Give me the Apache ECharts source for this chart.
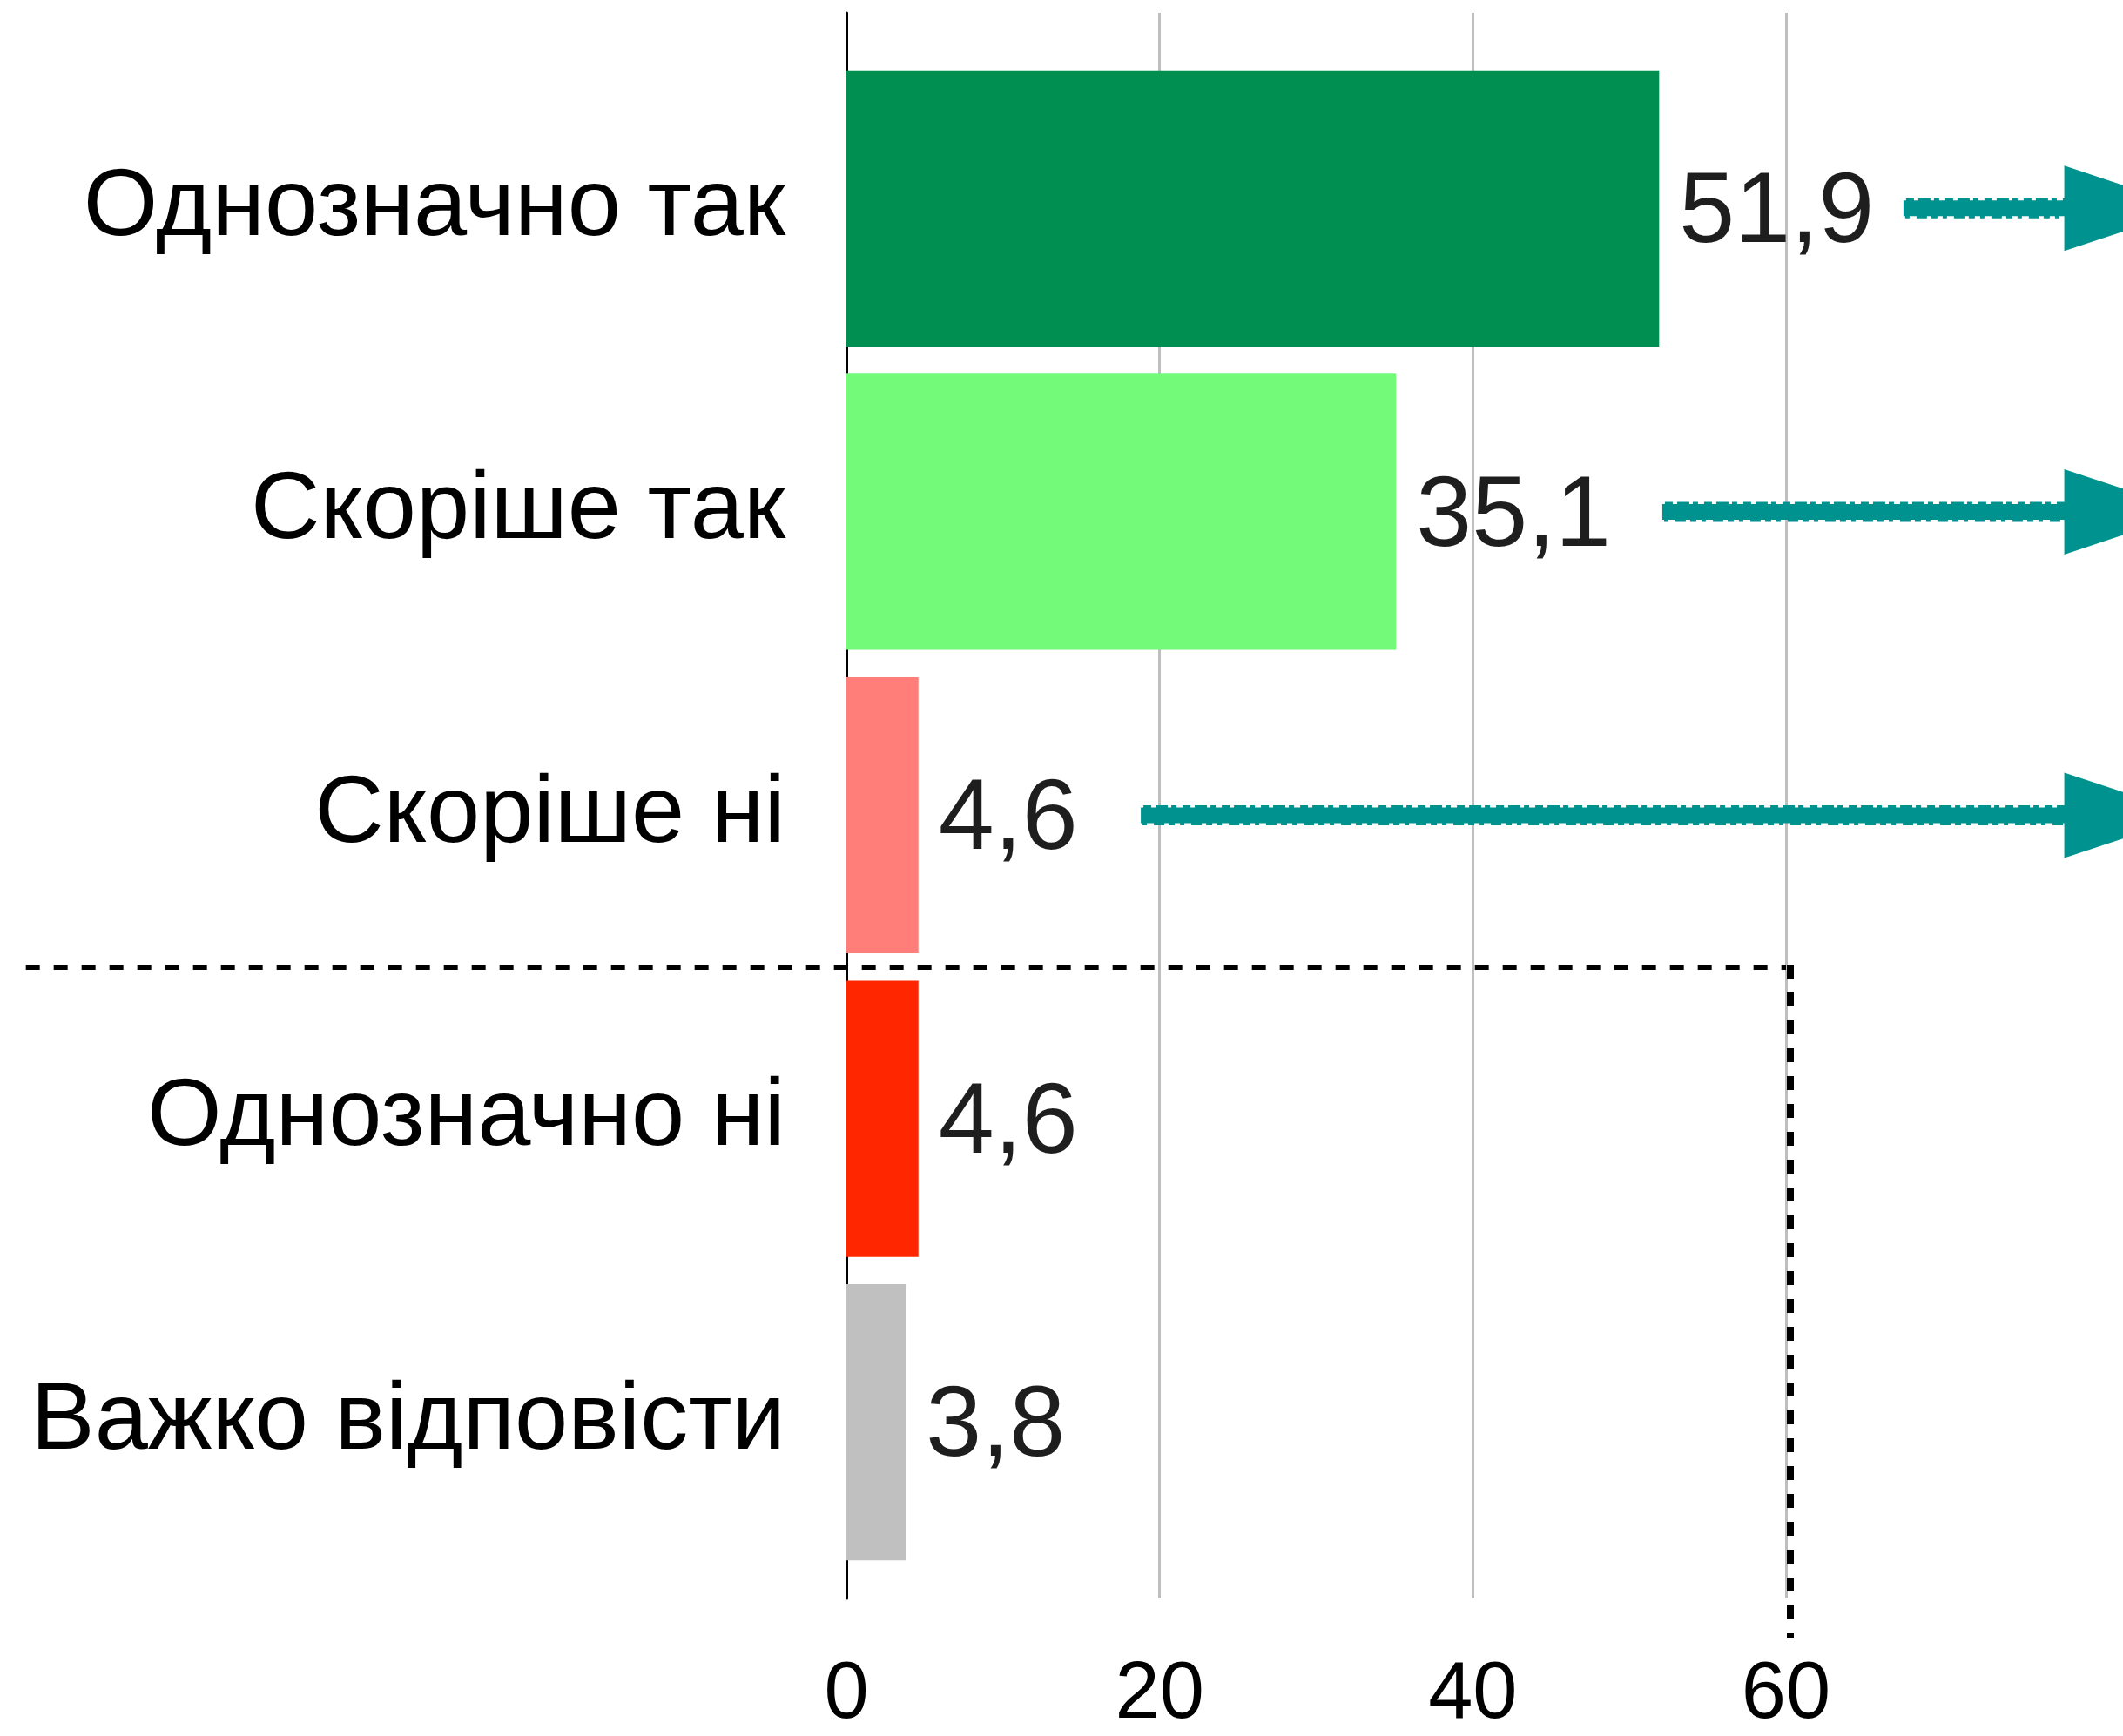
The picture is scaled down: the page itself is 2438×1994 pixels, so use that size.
<!DOCTYPE html>
<html>
<head>
<meta charset="utf-8">
<script src="https://cdn.jsdelivr.net/npm/echarts@6/dist/echarts.min.js"></script>
<style>
html, body { margin: 0; padding: 0; background: #ffffff; }
#chart { width: 2438px; height: 1994px; }
</style>
</head>
<body>
<div id="chart"></div>
<script>
// categories, top to bottom
var categories = ['Однозначно так', 'Скоріше так', 'Скоріше ні', 'Однозначно ні', 'Важко відповісти'];
var values = [51.9, 35.1, 4.6, 4.6, 3.8];
var barColors = ['#008F51', '#73FA79', '#FF7E79', '#FF2600', '#C0C0C0'];
var xTicks = [0, 20, 40, 60];

// teal arrows next to the first three bars (x in axis units)
var arrowRow = [0, 1, 2];
var arrowStart = [67.5, 52.1, 18.8];
var arrowEnd = [86, 86, 86];

// dashed separator: under row 2, from far left to x=60, then down past the last row
var sepX = [-52.4, 60];
var sepAfterRow = 2;
var sepDownToRow = 4;

var FONT = 'Liberation Sans';
var teal = '#00928E';

var chart = echarts.init(document.getElementById('chart'));

var barData = values.map(function (v, i) {
    return { value: v, itemStyle: { color: barColors[i] } };
});

var arrowData = arrowRow.map(function (r, i) {
    return [arrowStart[i], arrowEnd[i], r];
});

function renderArrow(params, api) {
    var p0 = api.coord([api.value(0), api.value(2)]);
    var p1 = api.coord([api.value(1), api.value(2)]);
    var head = 148, half = 49;
    var x2 = p1[0] - head + 6;
    var y = p0[1];
    return {
        type: 'group',
        children: [
            {
                type: 'line',
                shape: { x1: p0[0], y1: y, x2: x2, y2: y },
                style: { stroke: teal, lineWidth: 18 }
            },
            // rough edges, a bit like chalk
            {
                type: 'line',
                shape: { x1: p0[0] + 3, y1: y - 9, x2: x2, y2: y - 9 },
                style: { stroke: teal, lineWidth: 5, lineDash: [9, 5, 14, 4, 6, 7] }
            },
            {
                type: 'line',
                shape: { x1: p0[0] + 2, y1: y + 9, x2: x2, y2: y + 9 },
                style: { stroke: teal, lineWidth: 5, lineDash: [5, 8, 12, 5, 7, 6] }
            },
            {
                type: 'polygon',
                shape: { points: [[p1[0] - head, y - half], [p1[0], y], [p1[0] - head, y + half]] },
                style: { fill: teal }
            }
        ]
    };
}

function renderSeparator(params, api) {
    var band = api.size([0, 1])[1];
    var a = api.coord([api.value(0), api.value(2)]);
    var b = api.coord([api.value(1), api.value(2)]);
    var c = api.coord([api.value(1), api.value(3)]);
    var y = Math.round(a[1] + band / 2);
    var yBottom = c[1] + band * 0.71;
    return {
        type: 'group',
        children: [
            {
                type: 'line',
                shape: { x1: a[0], y1: y, x2: b[0], y2: y },
                style: { stroke: '#000', lineWidth: 6, lineDash: [16, 16] }
            },
            {
                type: 'line',
                shape: { x1: b[0] + 5, y1: y - 3, x2: c[0] + 5, y2: yBottom },
                style: { stroke: '#000', lineWidth: 8, lineDash: [16, 16] }
            }
        ]
    };
}

var option = {
    backgroundColor: '#ffffff',
    animation: false,
    grid: [
        // frame grid: gridlines, tick labels and the long axis line
        { left: 972, right: 387, top: 15, bottom: 137 },
        // bars
        { left: 972, right: 387, top: 65, bottom: 186 }
    ],
    xAxis: [
        {
            gridIndex: 0,
            type: 'value',
            min: xTicks[0],
            max: xTicks[xTicks.length - 1],
            interval: 20,
            axisLine: { show: false },
            axisTick: { show: false },
            splitLine: { show: true, lineStyle: { color: '#BEBEBE', width: 3 } },
            axisLabel: { fontFamily: FONT, fontSize: 92, color: '#000', margin: 66 }
        },
        {
            gridIndex: 1,
            type: 'value',
            min: 0,
            max: 60,
            show: false
        }
    ],
    yAxis: [
        {
            gridIndex: 0,
            type: 'value',
            min: 0,
            max: 1,
            axisLine: { show: true, lineStyle: { color: '#000', width: 3 } },
            axisTick: { show: false },
            axisLabel: { show: false },
            splitLine: { show: false }
        },
        {
            gridIndex: 1,
            type: 'category',
            inverse: true,
            data: categories,
            axisLine: { show: false },
            axisTick: { show: false },
            splitLine: { show: false },
            axisLabel: { fontFamily: FONT, fontSize: 110, color: '#000', margin: 70 }
        }
    ],
    series: [
        {
            name: 'bars',
            type: 'bar',
            xAxisIndex: 1,
            yAxisIndex: 1,
            data: barData,
            barCategoryGap: '9%',
            label: {
                show: true,
                position: 'right',
                distance: 23,
                offset: [0, 7],
                fontFamily: FONT,
                fontSize: 115,
                color: '#1E1E1E',
                formatter: function (p) {
                    return String(p.value).replace('.', ',');
                }
            }
        },
        {
            name: 'arrows',
            type: 'custom',
            xAxisIndex: 1,
            yAxisIndex: 1,
            silent: true,
            clip: false,
            renderItem: renderArrow,
            encode: { x: [0, 1], y: 2 },
            data: arrowData,
            z: 5
        },
        {
            name: 'separator',
            type: 'custom',
            xAxisIndex: 1,
            yAxisIndex: 1,
            silent: true,
            clip: false,
            renderItem: renderSeparator,
            encode: { x: [0, 1], y: [2, 3] },
            data: [[sepX[0], sepX[1], sepAfterRow, sepDownToRow]],
            z: 5
        }
    ]
};

chart.setOption(option);
</script>
</body>
</html>
